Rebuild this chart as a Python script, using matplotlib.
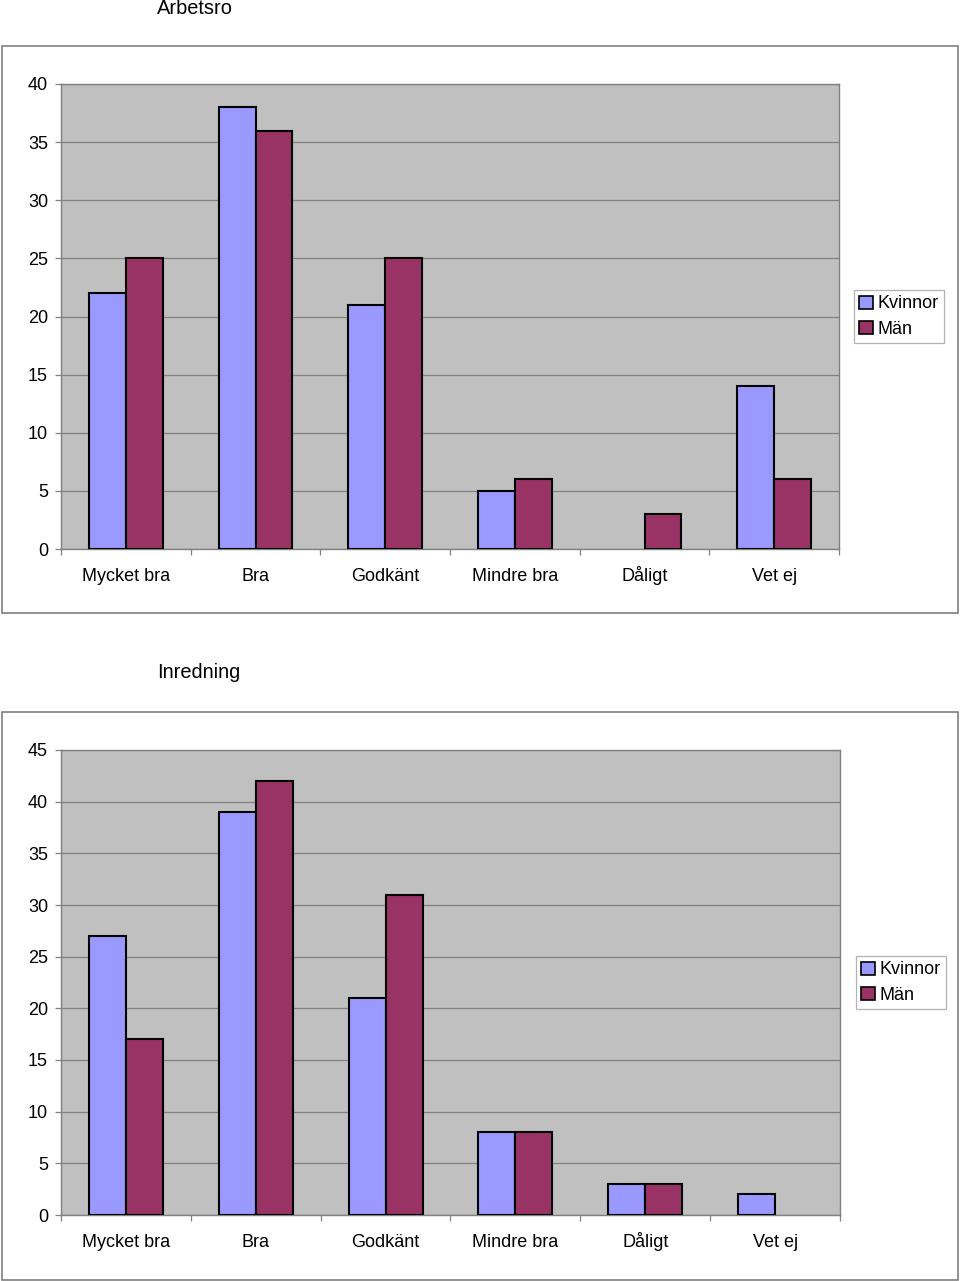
import matplotlib
matplotlib.use("Agg")
import matplotlib.pyplot as plt
from matplotlib.patches import Rectangle
import numpy as np

plt.rcParams['font.family'] = ['Liberation Sans', 'DejaVu Sans']

categories = ["Mycket bra", "Bra", "Godkänt", "Mindre bra", "Dåligt", "Vet ej"]
series_names = ["Kvinnor", "Män"]
arbetsro_kvinnor = [22, 38, 21, 5, 0, 14]
arbetsro_man = [25, 36, 25, 6, 3, 6]
inredning_kvinnor = [27, 39, 21, 8, 3, 2]
inredning_man = [17, 42, 31, 8, 3, 0]

W, H = 960, 1281
fig = plt.figure(figsize=(W / 100, H / 100), dpi=100)
fig.patch.set_facecolor("white")

col_k = "#9999FF"
col_m = "#993366"
FS = 13


def px_axes(x0, y0, x1, y1):
    return fig.add_axes([x0 / W, 1 - y1 / H, (x1 - x0) / W, (y1 - y0) / H])


def frame(x0, y0, x1, y1):
    fig.patches.append(Rectangle((x0 / W, 1 - y1 / H), (x1 - x0) / W, (y1 - y0) / H,
                                 transform=fig.transFigure, fill=False,
                                 edgecolor="#808080", linewidth=1.2))


def chart(title, tx, ty, box, plot, ymax, kv, mn, leg_anchor):
    frame(*box)
    fig.text(tx / W, 1 - ty / H, title, ha="center", va="center", fontsize=14.4)
    ax = px_axes(*plot)
    ax.set_facecolor("#C0C0C0")
    x = np.arange(len(categories))
    bw = 0.285
    b1 = ax.bar(x - bw / 2, kv, bw, color=col_k, edgecolor="black", linewidth=1.5,
                label=series_names[0], zorder=3)
    b2 = ax.bar(x + bw / 2, mn, bw, color=col_m, edgecolor="black", linewidth=1.5,
                label=series_names[1], zorder=3)
    for p in list(b1) + list(b2):
        if p.get_height() == 0:
            p.set_visible(False)
    ax.set_xlim(-0.5, len(categories) - 0.5)
    ax.set_ylim(0, ymax)
    ax.set_yticks(np.arange(0, ymax + 1, 5))
    ax.yaxis.grid(True, color="#808080", linewidth=0.9, zorder=0)
    ax.set_axisbelow(True)
    ax.set_xticks(x)
    ax.set_xticklabels(categories, fontsize=FS)
    for lab in ax.get_xticklabels():
        lab.set_verticalalignment("baseline")
    ax.set_xticks(np.arange(-0.5, len(categories)), minor=True)
    ax.tick_params(axis="x", which="major", length=0, pad=23)
    ax.tick_params(axis="x", which="minor", length=4, color="#808080", width=0.9)
    ax.tick_params(axis="y", length=4.3, color="#808080", width=0.9, labelsize=FS, pad=5)
    for s in ["top", "right", "left", "bottom"]:
        ax.spines[s].set_color("#808080")
        ax.spines[s].set_linewidth(1.0)
    leg = ax.legend(loc="upper left", bbox_to_anchor=(leg_anchor[0] / W, 1 - leg_anchor[1] / H),
                    bbox_transform=fig.transFigure, fontsize=FS, frameon=True,
                    fancybox=False, edgecolor="#A0A0A0", handlelength=0.75, handleheight=0.75,
                    handletextpad=0.25, borderpad=0.3, labelspacing=0.45, borderaxespad=0)
    leg.get_frame().set_linewidth(0.9)
    for h in leg.legend_handles:
        h.set_linewidth(1.2)
    return ax


chart("Arbetsro", 195, 9, (2, 46, 958, 613), (61, 84, 839, 549), 40,
      arbetsro_kvinnor, arbetsro_man, (854, 290))
chart("Inredning", 199, 673, (2, 712, 958, 1280), (61, 750, 840, 1215), 45,
      inredning_kvinnor, inredning_man, (856, 956))

fig.savefig("out.png", dpi=100)
